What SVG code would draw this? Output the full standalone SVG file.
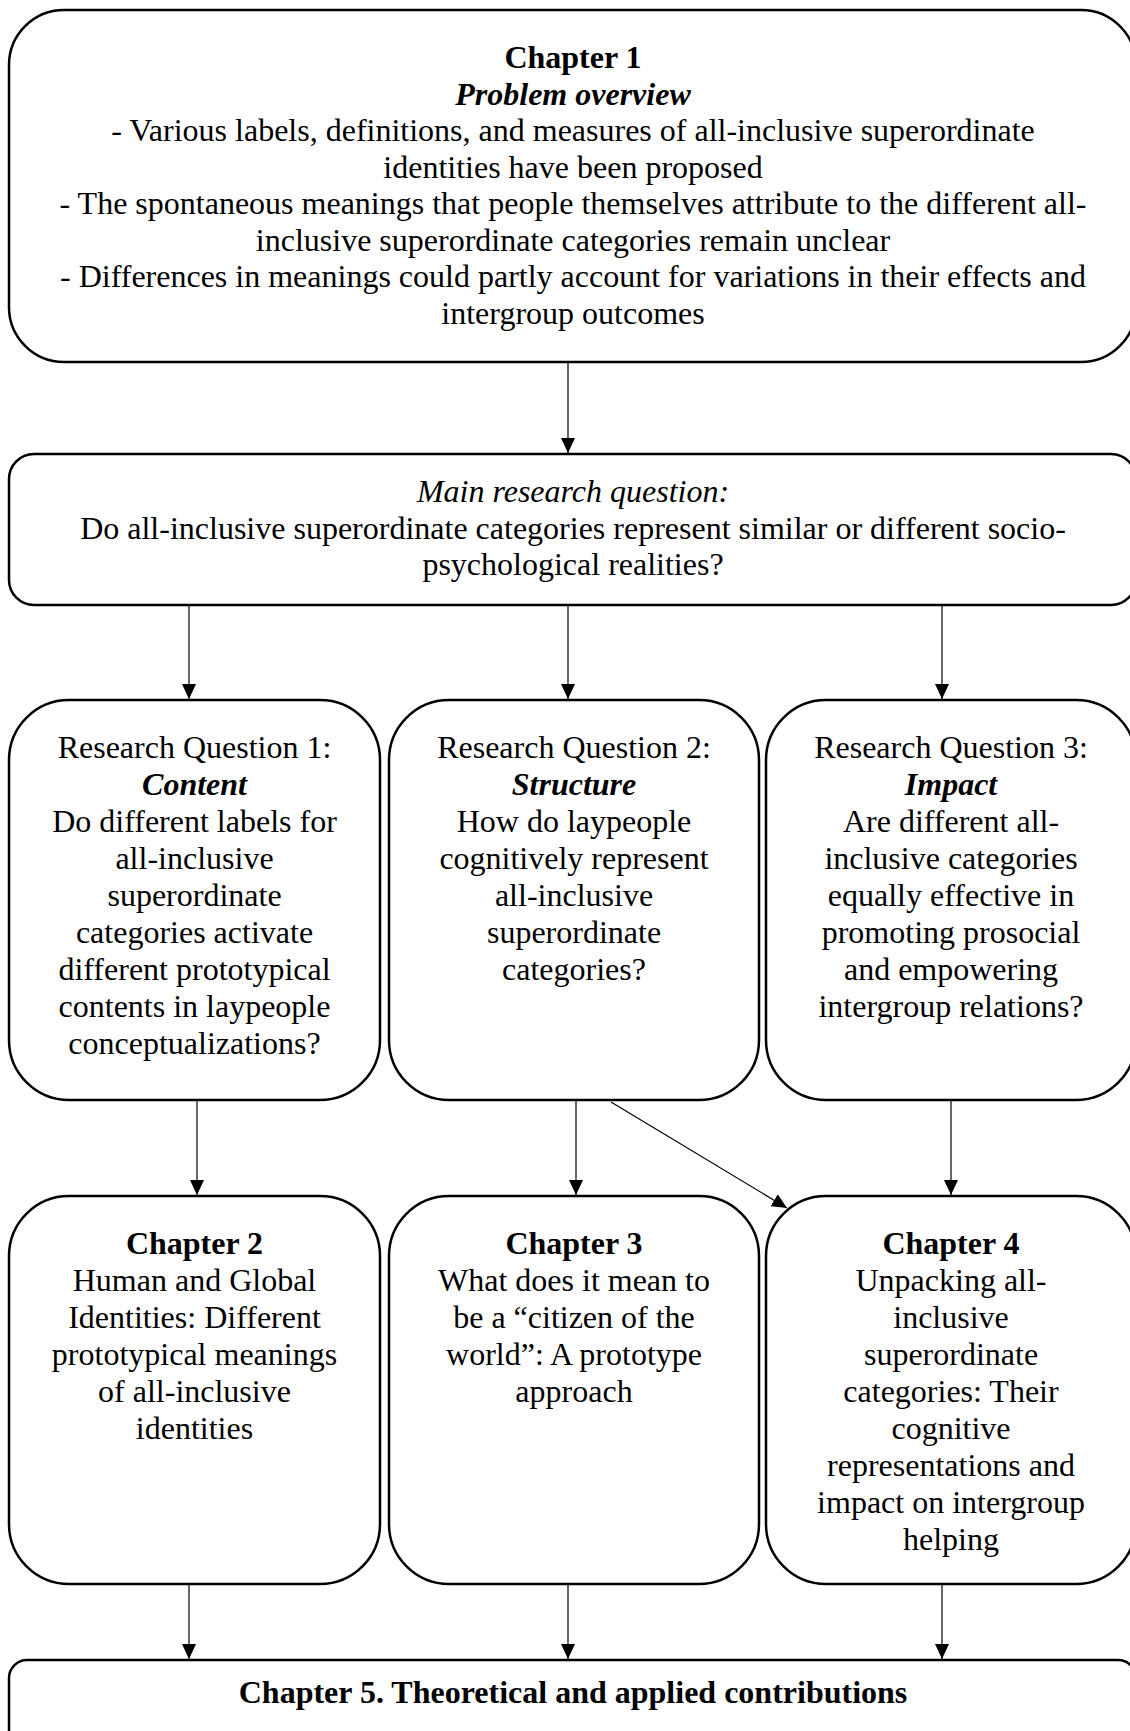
<svg xmlns="http://www.w3.org/2000/svg" width="1130" height="1731" viewBox="0 0 1130 1731">
<style>
.box{fill:#fff;stroke:#000;stroke-width:2.5}
.t{font-family:"Liberation Serif","Times New Roman",serif;font-size:32px;fill:#000;text-anchor:middle}
.b{font-weight:bold}
.i{font-style:italic}
.c{stroke:#000;stroke-width:1.2;fill:none;marker-end:url(#ah)}
</style>
<defs>
<marker id="ah" markerUnits="userSpaceOnUse" markerWidth="15" markerHeight="14" refX="15" refY="7" orient="auto">
<path d="M0,0 L15,7 L0,14 z" fill="#000"/>
</marker>
</defs>
<rect width="1130" height="1731" fill="#fff"/>
<g id="connectors">
<line class="c" x1="568" y1="363" x2="568" y2="453"/>
<line class="c" x1="189" y1="606" x2="189" y2="699"/>
<line class="c" x1="568" y1="606" x2="568" y2="699"/>
<line class="c" x1="942" y1="606" x2="942" y2="699"/>
<line class="c" x1="197" y1="1101" x2="197" y2="1195"/>
<line class="c" x1="576" y1="1101" x2="576" y2="1195"/>
<line class="c" x1="951" y1="1101" x2="951" y2="1195"/>
<line class="c" x1="611" y1="1102" x2="787" y2="1208"/>
<line class="c" x1="189" y1="1585" x2="189" y2="1659"/>
<line class="c" x1="568" y1="1585" x2="568" y2="1659"/>
<line class="c" x1="942" y1="1585" x2="942" y2="1659"/>
</g>
<g id="chapter1">
<rect class="box" x="9" y="10" width="1127" height="352" rx="55" ry="55"/>
<text class="t b" x="573" y="68">Chapter 1</text>
<text class="t b i" x="573" y="104.5">Problem overview</text>
<text class="t" x="573" y="141">- Various labels, definitions, and measures of all-inclusive superordinate</text>
<text class="t" x="573" y="177.5">identities have been proposed</text>
<text class="t" x="573" y="214">- The spontaneous meanings that people themselves attribute to the different all-</text>
<text class="t" x="573" y="250.5">inclusive superordinate categories remain unclear</text>
<text class="t" x="573" y="287">- Differences in meanings could partly account for variations in their effects and</text>
<text class="t" x="573" y="323.5">intergroup outcomes</text>
</g>
<g id="main-question">
<rect class="box" x="9" y="454" width="1127" height="151" rx="25" ry="25"/>
<text class="t i" x="573" y="502">Main research question:</text>
<text class="t" x="573" y="538.5">Do all-inclusive superordinate categories represent similar or different socio-</text>
<text class="t" x="573" y="575">psychological realities?</text>
</g>
<g id="rq1">
<rect class="box" x="9" y="700" width="371" height="400" rx="60" ry="60"/>
<text class="t" x="194.5" y="758">Research Question 1:</text>
<text class="t b i" x="194.5" y="795">Content</text>
<text class="t" x="194.5" y="832">Do different labels for</text>
<text class="t" x="194.5" y="869">all-inclusive</text>
<text class="t" x="194.5" y="906">superordinate</text>
<text class="t" x="194.5" y="943">categories activate</text>
<text class="t" x="194.5" y="980">different prototypical</text>
<text class="t" x="194.5" y="1017">contents in laypeople</text>
<text class="t" x="194.5" y="1054">conceptualizations?</text>
</g>
<g id="rq2">
<rect class="box" x="389" y="700" width="370" height="400" rx="60" ry="60"/>
<text class="t" x="574" y="758">Research Question 2:</text>
<text class="t b i" x="574" y="795">Structure</text>
<text class="t" x="574" y="832">How do laypeople</text>
<text class="t" x="574" y="869">cognitively represent</text>
<text class="t" x="574" y="906">all-inclusive</text>
<text class="t" x="574" y="943">superordinate</text>
<text class="t" x="574" y="980">categories?</text>
</g>
<g id="rq3">
<rect class="box" x="766" y="700" width="370" height="400" rx="60" ry="60"/>
<text class="t" x="951" y="758">Research Question 3:</text>
<text class="t b i" x="951" y="795">Impact</text>
<text class="t" x="951" y="832">Are different all-</text>
<text class="t" x="951" y="869">inclusive categories</text>
<text class="t" x="951" y="906">equally effective in</text>
<text class="t" x="951" y="943">promoting prosocial</text>
<text class="t" x="951" y="980">and empowering</text>
<text class="t" x="951" y="1017">intergroup relations?</text>
</g>
<g id="chapter2">
<rect class="box" x="9" y="1196" width="371" height="388" rx="60" ry="60"/>
<text class="t b" x="194.5" y="1254">Chapter 2</text>
<text class="t" x="194.5" y="1291">Human and Global</text>
<text class="t" x="194.5" y="1328">Identities: Different</text>
<text class="t" x="194.5" y="1365">prototypical meanings</text>
<text class="t" x="194.5" y="1402">of all-inclusive</text>
<text class="t" x="194.5" y="1439">identities</text>
</g>
<g id="chapter3">
<rect class="box" x="389" y="1196" width="370" height="388" rx="60" ry="60"/>
<text class="t b" x="574" y="1254">Chapter 3</text>
<text class="t" x="574" y="1291">What does it mean to</text>
<text class="t" x="574" y="1328">be a “citizen of the</text>
<text class="t" x="574" y="1365">world”: A prototype</text>
<text class="t" x="574" y="1402">approach</text>
</g>
<g id="chapter4">
<rect class="box" x="766" y="1196" width="370" height="388" rx="60" ry="60"/>
<text class="t b" x="951" y="1254">Chapter 4</text>
<text class="t" x="951" y="1291">Unpacking all-</text>
<text class="t" x="951" y="1328">inclusive</text>
<text class="t" x="951" y="1365">superordinate</text>
<text class="t" x="951" y="1402">categories: Their</text>
<text class="t" x="951" y="1439">cognitive</text>
<text class="t" x="951" y="1476">representations and</text>
<text class="t" x="951" y="1513">impact on intergroup</text>
<text class="t" x="951" y="1550">helping</text>
</g>
<g id="chapter5">
<rect class="box" x="9" y="1660" width="1127" height="100" rx="18" ry="18"/>
<text class="t b" x="573" y="1703">Chapter 5. Theoretical and applied contributions</text>
</g>
</svg>
